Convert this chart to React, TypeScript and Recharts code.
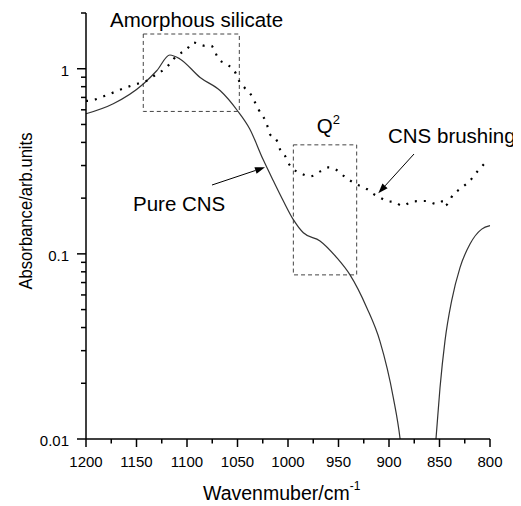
import { LineChart, Line, XAxis, YAxis, ReferenceArea } from 'recharts'

// Pure CNS (solid)
const pureWave = [1200, 1173, 1143, 1130, 1117, 1107, 1087, 1067, 1050, 1038, 1024.5, 1014.5, 1004.6, 994.7, 984.8, 968.3, 951.8, 938.6, 922, 909, 895.7, 889, 886, 870, 856, 853.5, 849.5, 844.6, 838, 829.7, 819.8, 808.2, 800]
const pureAbs = [0.571, 0.647, 0.83, 0.975, 1.186, 1.13, 0.897, 0.76, 0.593, 0.474, 0.322, 0.248, 0.193, 0.153, 0.13, 0.1175, 0.0955, 0.077, 0.0512, 0.0338, 0.0167, 0.01, 0.007, null, 0.007, 0.01, 0.0189, 0.0338, 0.0557, 0.0843, 0.113, 0.136, 0.142]

// CNS brushing (dotted)
const brushWave = [1200, 1194, 1181, 1161, 1148, 1140, 1130, 1122, 1110, 1100, 1094, 1082, 1076, 1072, 1069, 1061, 1052, 1048, 1043, 1036, 1034, 1029, 1021, 1018, 1011, 1008, 1003, 1000, 994, 987, 978, 968, 960, 952, 945, 939, 934, 922, 915, 912, 902, 894, 887, 876, 863, 853, 846, 844.6, 836, 828, 820, 812, 806]
const brushAbs = [0.67, 0.675, 0.715, 0.79, 0.833, 0.861, 0.936, 0.996, 1.176, 1.278, 1.387, 1.33, 1.33, 1.23, 1.13, 1.06, 0.95, 0.85, 0.79, 0.714, 0.68, 0.6, 0.502, 0.444, 0.408, 0.368, 0.339, 0.312, 0.285, 0.272, 0.262, 0.279, 0.293, 0.284, 0.264, 0.25, 0.24, 0.224, 0.21, 0.206, 0.193, 0.19, 0.182, 0.192, 0.193, 0.186, 0.193, 0.182, 0.21, 0.228, 0.248, 0.281, 0.305]

const xTicks = [800, 825, 850, 875, 900, 925, 950, 975, 1000, 1025, 1050, 1075, 1100, 1125, 1150, 1175, 1200]
const xMajor = [800, 850, 900, 950, 1000, 1050, 1100, 1150, 1200]
const yTicks = [0.01, 0.02, 0.03, 0.04, 0.05, 0.06, 0.07, 0.08, 0.09, 0.1, 0.2, 0.3, 0.4, 0.5, 0.6, 0.7, 0.8, 0.9, 1, 2]
const yMajor = [0.01, 0.1, 1]

const pure = pureWave.map((w, i) => ({ w, a: pureAbs[i] }))
const brush = brushWave.map((w, i) => ({ w, a: brushAbs[i] }))

const FONT = '"Liberation Sans", Arial, sans-serif'

// eslint-disable-next-line @typescript-eslint/no-explicit-any
function XTick(props: any) {
  const x = Number(props.x)
  const y = Number(props.y)
  const major = xMajor.includes(props.payload.value)
  return (
    <g>
      <path d={`M${x},${y}V${y + (major ? 8 : 4.5)}`} stroke="#000" strokeWidth={1.5} fill="none" />
      {major && (
        <text x={x} y={y + 28} textAnchor="middle" fontSize={15} fontFamily={FONT} fill="#000">
          {props.payload.value}
        </text>
      )}
    </g>
  )
}

// eslint-disable-next-line @typescript-eslint/no-explicit-any
function YTick(props: any) {
  const x = Number(props.x)
  const y = Number(props.y)
  const major = yMajor.includes(props.payload.value)
  return (
    <g>
      <path d={`M${x},${y}H${x - (major ? 9 : 5)}`} stroke="#000" strokeWidth={1.5} fill="none" />
      {major && (
        <text x={x - 17} y={y + 7} textAnchor="end" fontSize={15} fontFamily={FONT} fill="#000">
          {String(props.payload.value)}
        </text>
      )}
    </g>
  )
}

function Arrow({ x1, y1, x2, y2 }: { x1: number; y1: number; x2: number; y2: number }) {
  const ang = Math.atan2(y2 - y1, x2 - x1)
  const len = 10
  const half = 3.5
  const bx = x2 - len * Math.cos(ang)
  const by = y2 - len * Math.sin(ang)
  const px = -Math.sin(ang) * half
  const py = Math.cos(ang) * half
  return (
    <g>
      <line x1={x1} y1={y1} x2={bx} y2={by} stroke="#000" strokeWidth={1} />
      <polygon points={`${x2},${y2} ${bx + px},${by + py} ${bx - px},${by - py}`} fill="#000" />
    </g>
  )
}

export default function App() {
  return (
    <div style={{ position: 'relative', width: 513, height: 498 }}>
      <LineChart width={513} height={498} margin={{ top: 5, right: 31, bottom: 27, left: 8 }}>
        <XAxis
          dataKey="w"
          type="number"
          domain={[800, 1200]}
          reversed
          ticks={xTicks}
          interval={0}
          tickSize={0}
          tickMargin={0}
          tick={<XTick />}
          tickLine={false}
          axisLine={{ stroke: '#000', strokeWidth: 1.5 }}
          height={40}
        />
        <YAxis
          type="number"
          scale="log"
          domain={[0.01, 2]}
          allowDataOverflow
          ticks={yTicks}
          interval={0}
          tickSize={0}
          tickMargin={0}
          tick={<YTick />}
          tickLine={false}
          axisLine={{ stroke: '#000', strokeWidth: 1.5 }}
          width={70}
        />
        <ReferenceArea x1={1143.3} x2={1048.2} y1={0.588} y2={1.54} fill="none" stroke="#444" strokeDasharray="4 3" strokeWidth={1} />
        <ReferenceArea x1={994.7} x2={932} y1={0.077} y2={0.388} fill="none" stroke="#444" strokeDasharray="4 3" strokeWidth={1} />
        <Line data={pure} dataKey="a" type="monotone" stroke="#333" strokeWidth={1.2} dot={false} isAnimationActive={false} />
        <Line
          data={brush}
          dataKey="a"
          type="monotone"
          stroke="#000"
          strokeWidth={2.2}
          strokeDasharray="2 7"
          dot={false}
          isAnimationActive={false}
        />
      </LineChart>
      <svg width={513} height={498} style={{ position: 'absolute', left: 0, top: 0, pointerEvents: 'none' }}>
        <g fontFamily={FONT} fill="#000">
          <text x={102} y={19} fontSize={20.5}>Amorphous silicate</text>
          <text x={125} y={203} fontSize={20.5}>Pure CNS</text>
          <text x={380} y={135} fontSize={20.5}>CNS brushing</text>
          <text x={308.7} y={125} fontSize={20.5}>
            Q<tspan fontSize={13} dy={-9}>2</tspan>
          </text>
          <text x={195} y={492} fontSize={19.5}>
            Wavenmuber/cm<tspan fontSize={12} dy={-10}>-1</tspan>
          </text>
          <text
            x={0}
            y={0}
            fontSize={18.5}
            textAnchor="middle"
            textLength={157}
            lengthAdjust="spacingAndGlyphs"
            transform="translate(24,203) rotate(-90)"
          >
            Absorbance/arb.units
          </text>
        </g>
        <Arrow x1={204} y1={177} x2={257} y2={159.3} />
        <Arrow x1={406} y1={146} x2={370.3} y2={185.3} />
      </svg>
    </div>
  )
}
